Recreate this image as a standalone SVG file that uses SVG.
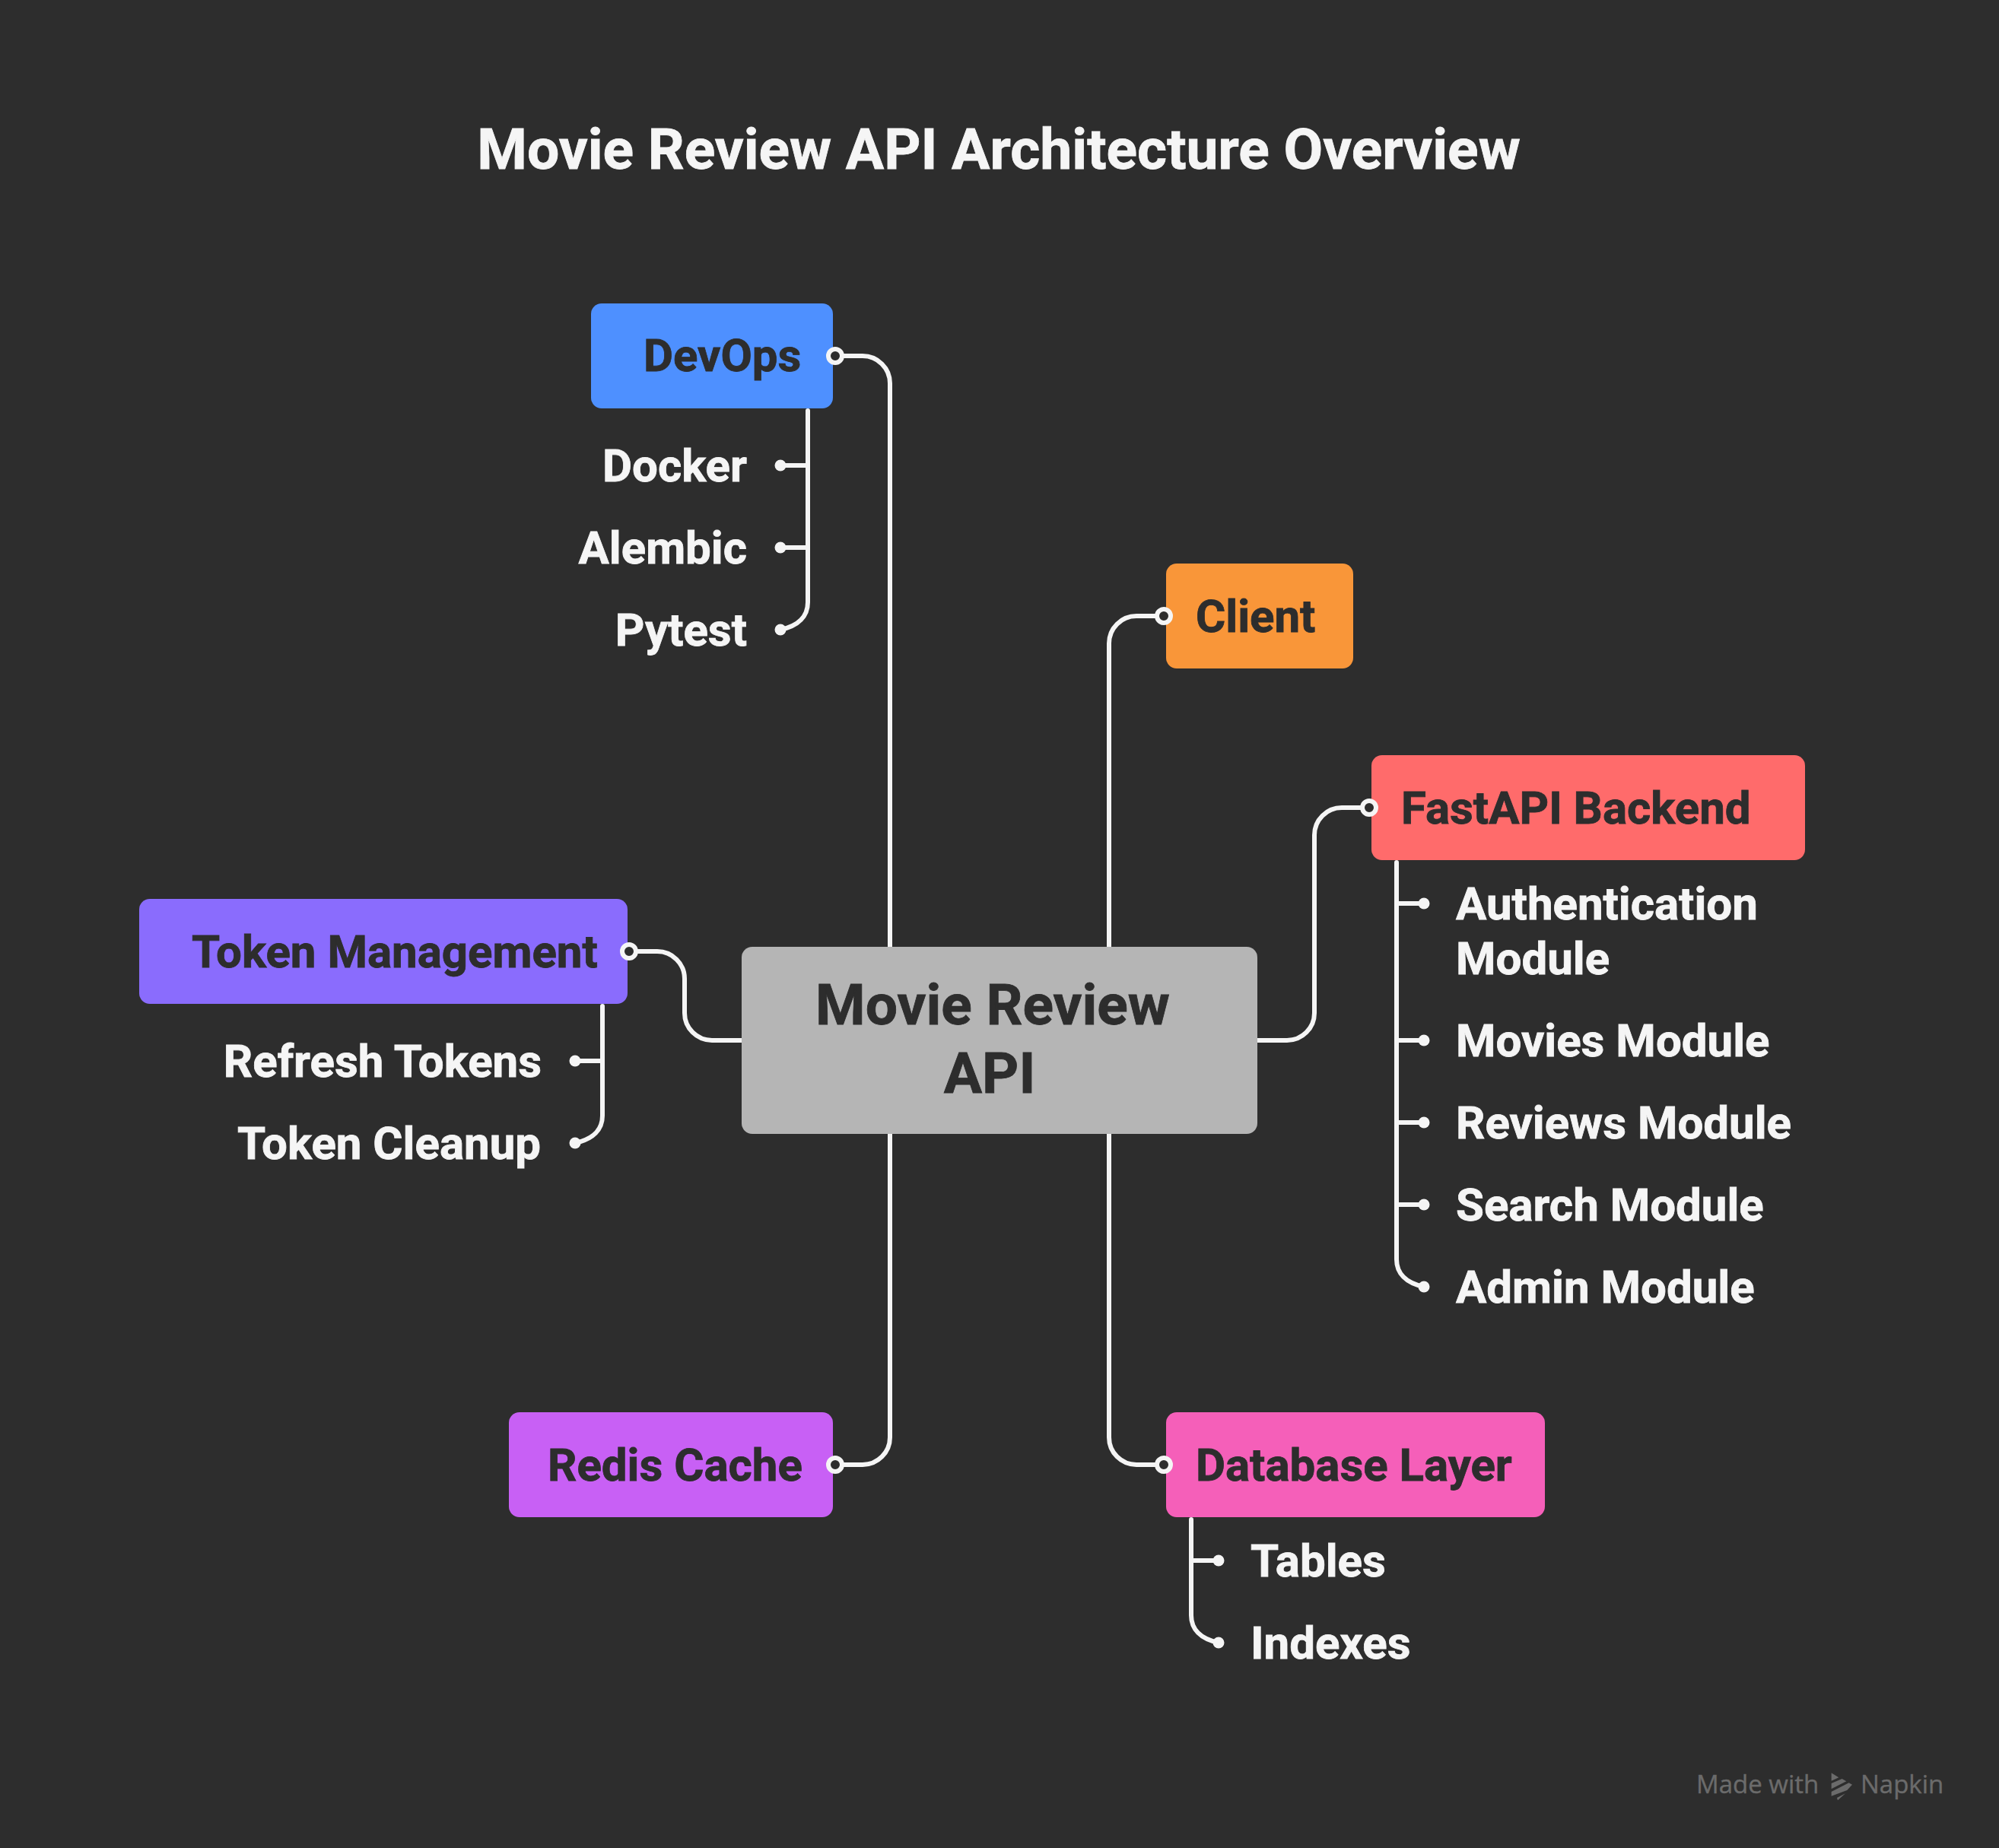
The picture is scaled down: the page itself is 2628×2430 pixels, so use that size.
<svg xmlns="http://www.w3.org/2000/svg" width="2628" height="2430" viewBox="0 0 2628 2430">
<style>
text{font-family:Roboto,"Liberation Sans",sans-serif;font-weight:700}
.n{font-size:60px;fill:#2d2d2d;stroke:#2d2d2d;stroke-width:.8}
.s{font-size:60px;fill:#f5f5f5;stroke:#f5f5f5;stroke-width:.8}
.e{text-anchor:end}
.c{font-size:75px;text-anchor:middle;fill:#2d2d2d;stroke:#2d2d2d;stroke-width:.8}
.l{fill:none;stroke:#f5f5f5;stroke-width:6;stroke-linecap:round}
.d{fill:#f5f5f5}
.o{fill:#2d2d2d;stroke:#f5f5f5;stroke-width:6}
.w{font-family:"Open Sans",Roboto,sans-serif;font-weight:500;font-size:33px;fill:#6b6b6b;stroke:#6b6b6b;stroke-width:.4}
</style>
<rect width="2628" height="2430" fill="#2d2d2d"/>
<text id="title" x="1313" y="222" text-anchor="middle" font-size="75" fill="#f5f5f5" stroke="#f5f5f5" stroke-width=".8">Movie Review API Architecture Overview</text>
<g id="connectors">
<path class="l" d="M1098 468H1134A36 36 0 0 1 1170 504V1245"/>
<path class="l" d="M1170 1491V1890A36 36 0 0 1 1134 1926H1098"/>
<path class="l" d="M1458 1245V846A36 36 0 0 1 1494 810H1530"/>
<path class="l" d="M1458 1491V1890A36 36 0 0 0 1494 1926H1530"/>
<path class="l" d="M1653 1368H1692A36 36 0 0 0 1728 1332V1098A36 36 0 0 1 1764 1062H1800"/>
<path class="l" d="M975 1368H936A36 36 0 0 1 900 1332V1287A36 36 0 0 0 864 1251H827"/>
<path class="l" d="M1062 540V792C1062 810 1050 823 1026 828M1062 612H1026M1062 720H1026"/>
<path class="l" d="M792 1323V1467C792 1485 780 1498 756 1503M792 1395H756"/>
<path class="l" d="M1836 1134V1656C1836 1674 1848 1687 1872 1692M1836 1188H1872M1836 1368H1872M1836 1476H1872M1836 1584H1872"/>
<path class="l" d="M1566 1998V2124C1566 2142 1578 2155 1602 2160M1566 2052H1602"/>
<g class="d">
<circle cx="1026" cy="612" r="7.5"/><circle cx="1026" cy="720" r="7.5"/><circle cx="1026" cy="828" r="7.5"/>
<circle cx="756" cy="1395" r="7.5"/><circle cx="756" cy="1503" r="7.5"/>
<circle cx="1872" cy="1188" r="7.5"/><circle cx="1872" cy="1368" r="7.5"/><circle cx="1872" cy="1476" r="7.5"/><circle cx="1872" cy="1584" r="7.5"/><circle cx="1872" cy="1692" r="7.5"/>
<circle cx="1602" cy="2052" r="7.5"/><circle cx="1602" cy="2160" r="7.5"/>
</g>
</g>
<g id="center"><rect x="975" y="1245" width="678" height="246" rx="14" fill="#b5b5b5"/>
<text class="c" x="1305" y="1347">Movie Review</text><text class="c" x="1301" y="1437">API</text></g>
<g id="devops"><rect x="777" y="399" width="318" height="138" rx="14" fill="#4e90ff"/><text class="n" x="846" y="488">DevOps</text>
<circle class="o" cx="1098" cy="468" r="9"/>
<text class="s e" x="982" y="633">Docker</text><text class="s e" x="982" y="741">Alembic</text><text class="s e" x="982" y="849">Pytest</text></g>
<g id="client"><rect x="1533" y="741" width="246" height="138" rx="14" fill="#f99639"/><text class="n" x="1572" y="831">Client</text>
<circle class="o" cx="1530" cy="810" r="9"/></g>
<g id="fastapi"><rect x="1803" y="993" width="570" height="138" rx="14" fill="#ff6b6b"/><text class="n" x="1842" y="1083">FastAPI Backend</text>
<circle class="o" cx="1800" cy="1062" r="9"/>
<text class="s" x="1914" y="1209">Authentication</text><text class="s" x="1914" y="1281">Module</text><text class="s" x="1914" y="1389">Movies Module</text><text class="s" x="1914" y="1497">Reviews Module</text><text class="s" x="1914" y="1605">Search Module</text><text class="s" x="1914" y="1713">Admin Module</text></g>
<g id="token"><rect x="183" y="1182" width="642" height="138" rx="14" fill="#8a6cfd"/><text class="n" x="252" y="1272">Token Management</text>
<circle class="o" cx="827" cy="1251" r="9"/>
<text class="s e" x="712" y="1416">Refresh Tokens</text><text class="s e" x="711" y="1524">Token Cleanup</text></g>
<g id="redis"><rect x="669" y="1857" width="426" height="138" rx="14" fill="#c860f5"/><text class="n" x="720" y="1947">Redis Cache</text>
<circle class="o" cx="1098" cy="1926" r="9"/></g>
<g id="database"><rect x="1533" y="1857" width="498" height="138" rx="14" fill="#f55fb9"/><text class="n" x="1572" y="1947">Database Layer</text>
<circle class="o" cx="1530" cy="1926" r="9"/>
<text class="s" x="1644" y="2073">Tables</text><text class="s" x="1644" y="2181">Indexes</text></g>
<g id="watermark"><text class="w" x="2230" y="2358">Made with</text>
<path fill="#6b6b6b" transform="translate(2180 2290) scale(.3333)" d="M683 124L712 142L683 155ZM683 165L725 147L742 157L683 187ZM683 198L752 163L765 170L745 192L683 215ZM705 222L738 205L708 232Z"/>
<text class="w" x="2446" y="2358">Napkin</text></g>
</svg>
